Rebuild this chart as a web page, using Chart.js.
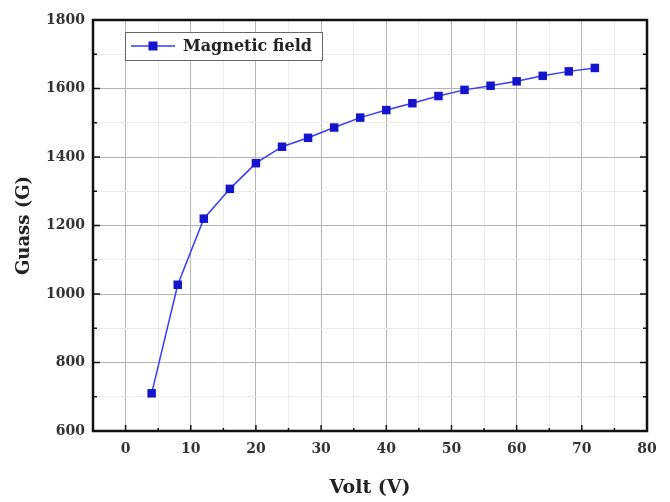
<!DOCTYPE html>
<html>
<head>
<meta charset="utf-8">
<script src="https://cdn.jsdelivr.net/npm/chart.js@4"></script>
<style>
  html, body { margin: 0; padding: 0; background: #fff; }
  #wrap { width: 670px; height: 502px; }
</style>
</head>
<body>
<div id="wrap"><canvas id="c" width="670" height="502"></canvas></div>
<script>
const volts = [4, 8, 12, 16, 20, 24, 28, 32, 36, 40, 44, 48, 52, 56, 60, 64, 68, 72];
const gauss = [710, 1027, 1220, 1307, 1382, 1430, 1456, 1486, 1515, 1537, 1557, 1578, 1596, 1608, 1621, 1637, 1650, 1660];
const seriesLabel = 'Magnetic field';
const xTitle = 'Volt (V)';
const yTitle = 'Guass (G)';

const SERIF = '"DejaVu Serif", "Liberation Serif", serif';
const LINE = '#3a3aff';
const MARK = '#1414cc';

// frame with inward ticks + legend box inside plot
const framePlugin = {
  id: 'frame',
  afterDraw(chart) {
    const { ctx, chartArea: a, scales } = chart;
    const xs = scales.x, ys = scales.y;
    ctx.save();
    ctx.strokeStyle = '#111';
    ctx.lineWidth = 1.5;
    ctx.beginPath();
    xs.ticks.forEach(t => {
      if (t.value < 0) return;
      const px = xs.getPixelForValue(t.value);
      const len = t.value % 10 === 0 ? 6 : 3;
      ctx.moveTo(px, a.bottom); ctx.lineTo(px, a.bottom - len);
    });
    ys.ticks.forEach(t => {
      const py = ys.getPixelForValue(t.value);
      const len = t.value % 200 === 0 ? 7 : 4;
      ctx.moveTo(a.left, py); ctx.lineTo(a.left + len, py);
      ctx.moveTo(a.right, py); ctx.lineTo(a.right - len, py);
    });
    ctx.stroke();

    ctx.lineWidth = 2.5;
    ctx.strokeRect(a.left, a.top, a.right - a.left, a.bottom - a.top);

    // legend
    const lx = 125, ly = 32, lw = 197, lh = 28;
    ctx.fillStyle = '#fff';
    ctx.fillRect(lx, ly, lw, lh);
    ctx.lineWidth = 1;
    ctx.strokeStyle = '#666';
    ctx.strokeRect(lx + 0.5, ly + 0.5, lw, lh);
    const my = ly + lh / 2;
    ctx.strokeStyle = LINE;
    ctx.lineWidth = 1.5;
    ctx.beginPath();
    ctx.moveTo(lx + 6, my); ctx.lineTo(lx + 50, my);
    ctx.stroke();
    ctx.fillStyle = MARK;
    ctx.fillRect(lx + 28 - 4.5, my - 4.5, 9, 9);
    ctx.fillStyle = '#222';
    ctx.font = 'bold 16px ' + SERIF;
    ctx.textBaseline = 'middle';
    ctx.textAlign = 'left';
    ctx.fillText(chart.data.datasets[0].label, lx + 58, my + 1);
    ctx.restore();
  }
};

new Chart(document.getElementById('c'), {
  type: 'line',
  data: {
    datasets: [{
      label: seriesLabel,
      data: volts.map((v, i) => ({ x: v, y: gauss[i] })),
      borderColor: LINE,
      borderWidth: 1.5,
      backgroundColor: MARK,
      pointBackgroundColor: MARK,
      pointBorderColor: MARK,
      pointStyle: 'rect',
      pointRadius: 6,
      pointBorderWidth: 0,
      tension: 0,
      fill: false
    }]
  },
  options: {
    responsive: false,
    animation: false,
    devicePixelRatio: 1,
    layout: { padding: { top: 20, right: 23, left: 0, bottom: 0 } },
    plugins: { legend: { display: false }, tooltip: { enabled: false } },
    scales: {
      x: {
        type: 'linear',
        min: -5, max: 80,
        afterFit: s => { s.height = 71; },
        border: { display: false },
        grid: {
          drawTicks: false,
          color: c => (c.tick.value % 10 === 0 ? '#b4b4b4' : '#ebebeb'),
          lineWidth: 1
        },
        ticks: {
          stepSize: 5,
          autoSkip: false,
          maxRotation: 0,
          padding: 10,
          color: '#333',
          font: { family: SERIF, size: 14, weight: 'bold' },
          callback: v => (v >= 0 && v % 10 === 0 ? String(v) : '')
        },
        title: {
          display: true,
          text: xTitle,
          color: '#222',
          font: { family: SERIF, size: 19, weight: 'bold' },
          padding: { top: 0, bottom: 3 }
        }
      },
      y: {
        min: 600, max: 1800,
        afterFit: s => { s.width = 93; },
        border: { display: false },
        grid: {
          drawTicks: false,
          color: c => (c.tick.value % 200 === 0 ? '#b4b4b4' : '#ebebeb'),
          lineWidth: 1
        },
        ticks: {
          stepSize: 100,
          autoSkip: false,
          padding: 8,
          color: '#333',
          font: { family: SERIF, size: 14, weight: 'bold' },
          callback: v => (v % 200 === 0 ? String(v) : '')
        },
        title: {
          display: true,
          text: yTitle,
          color: '#222',
          font: { family: SERIF, size: 18, weight: 'bold' },
          padding: { top: 14, bottom: 0 }
        }
      }
    }
  },
  plugins: [framePlugin]
});
</script>
</body>
</html>
